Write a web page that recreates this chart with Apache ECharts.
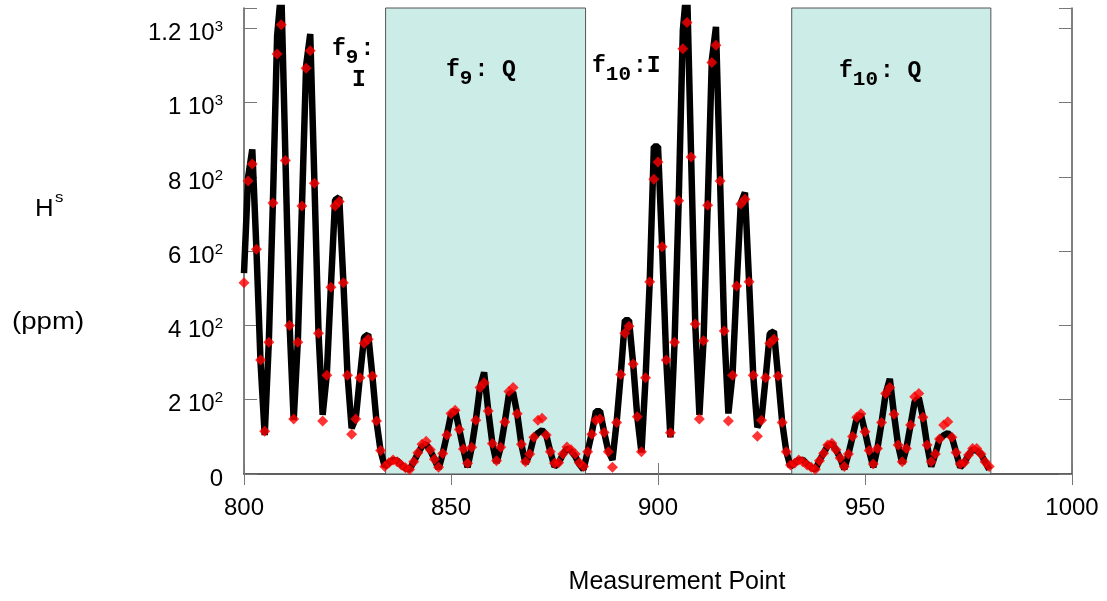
<!DOCTYPE html>
<html>
<head>
<meta charset="utf-8">
<script src="https://cdn.jsdelivr.net/npm/echarts@6/dist/echarts.min.js"></script>
<style>html,body{margin:0;padding:0;background:#fff}#c{width:1107px;height:601px}</style>
</head>
<body>
<div id="c"></div>
<script>
// ---------- DATA ----------
// Measurement points start at these indices (one value per point)
const segmentStarts = [800, 834, 882, 932];
const segmentNames = ['f9:I', 'f9:Q', 'f10:I', 'f10:Q'];

// Black line (H^s, ppm) per segment
const lineF9I = [541, 800, 874, 605, 300, 105, 358, 740, 1180, 1305, 855, 405, 145, 358, 722, 1100, 1185, 790, 380, 159, 268, 508, 738, 745, 518, 268, 123, 150, 262, 368, 376, 266, 142, 62];
const lineF9Q = [20, 30, 38, 36, 25, 15, 12, 33, 55, 75, 80, 63, 40, 14, 55, 105, 160, 172, 120, 67, 18, 72, 145, 233, 274, 170, 82, 30, 72, 140, 215, 220, 162, 80, 28, 54, 99, 110, 118, 105, 60, 20, 30, 52, 69, 62, 48, 26];
const lineF10I = [12, 60, 110, 169, 169, 112, 62, 38, 139, 268, 414, 414, 296, 154, 58, 259, 518, 882, 882, 612, 307, 99, 355, 736, 1195, 1320, 854, 404, 159, 359, 724, 1115, 1204, 789, 385, 163, 268, 508, 730, 758, 518, 266, 126, 148, 259, 378, 384, 264, 139, 60];
const lineF10Q = [20, 30, 38, 38, 27, 18, 12, 36, 56, 76, 82, 65, 43, 13, 54, 101, 150, 160, 114, 63, 18, 69, 139, 217, 256, 161, 78, 28, 69, 132, 195, 205, 153, 78, 20, 54, 94, 104, 110, 99, 58, 18, 31, 51, 66, 63, 54, 33, 12];

// Red diamond points per segment
const dotsF9I = [515, 789, 835, 605, 307, 115, 355, 730, 1131, 1210, 844, 400, 148, 355, 722, 1093, 1140, 783, 379, 143, 266, 503, 722, 734, 515, 266, 107, 148, 259, 352, 363, 264, 143, 63];
const dotsF9Q = [20, 30, 38, 33, 24, 17, 12, 33, 57, 80, 88, 65, 40, 18, 55, 105, 163, 172, 120, 67, 29, 72, 145, 233, 246, 170, 82, 36, 72, 140, 222, 233, 162, 80, 33, 54, 99, 145, 150, 105, 60, 29, 30, 54, 73, 65, 54, 30];
const dotsF10I = [20, 60, 107, 145, 148, 112, 60, 18, 139, 268, 379, 398, 296, 154, 60, 259, 518, 794, 840, 612, 307, 111, 355, 736, 1145, 1216, 854, 404, 148, 359, 724, 1108, 1155, 789, 385, 143, 266, 506, 727, 740, 518, 266, 102, 145, 259, 352, 363, 264, 139, 60];
const dotsF10Q = [24, 29, 38, 33, 24, 18, 13, 36, 56, 78, 83, 65, 43, 20, 54, 101, 153, 162, 114, 63, 27, 69, 139, 217, 233, 161, 78, 33, 69, 132, 208, 217, 153, 78, 33, 54, 94, 132, 141, 99, 58, 27, 31, 51, 69, 69, 54, 33, 20];

// Shaded Q regions (measurement point bounds)
const qRegions = [[834.2, 882.5], [932.3, 980.4]];

// Axis ticks
const xMin = 800, xMax = 1000, xStep = 50;
const yMin = 0, yMax = 1255, yStep = 200;
const yTickValues = [0, 200, 400, 600, 800, 1000, 1200];
const yTickMantissa = ['0', '2', '4', '6', '8', '1', '1.2'];
const yTickExponent = ['', '2', '2', '2', '2', '3', '3'];

// ---------- BUILD ----------
function toPairs(segments) {
  const out = [];
  segments.forEach((vals, s) => {
    vals.forEach((v, i) => out.push([segmentStarts[s] + i, v]));
  });
  return out;
}
const lineData = toPairs([lineF9I, lineF9Q, lineF10I, lineF10Q]);
const dotData = toPairs([dotsF9I, dotsF9Q, dotsF10I, dotsF10Q]);

const sans = '"Liberation Sans", Arial, sans-serif';
const mono = '"Liberation Mono", "Courier New", monospace';

function annot(x, y, parts) {
  const els = [];
  let cx = x;
  parts.forEach(([t, sub]) => {
    const fs = sub ? 21 : 23;
    els.push({
      type: 'text', x: cx, y: sub ? y + 9 : y, z: 100,
      style: { text: t, font: 'bold ' + fs + 'px ' + mono, fill: '#000', align: 'left', verticalAlign: 'middle' }
    });
    cx += t.length * fs * 0.6 + (sub ? 2 : 0);
  });
  return els;
}

const graphics = [].concat(
  annot(332, 49, [['f', false], ['9', true], [':', false]]),
  annot(352, 80, [['I', false]]),
  annot(446, 70, [['f', false], ['9', true], [':', false], [' Q', false]]),
  annot(592, 66, [['f', false], ['10', true], [':I', false]]),
  annot(839, 71, [['f', false], ['10', true], [':', false], [' Q', false]]),
  [
    { type: 'text', x: 35, y: 210, z: 100, scaleX: 1.12,
      style: { text: 'H', font: '23px ' + sans, fill: '#000', align: 'left', verticalAlign: 'middle' } },
    { type: 'text', x: 55, y: 198, z: 100, scaleX: 1.12,
      style: { text: 's', font: '15px ' + sans, fill: '#000', align: 'left', verticalAlign: 'middle' } },
    { type: 'text', x: 12, y: 323, z: 100, scaleX: 1.2,
      style: { text: '(ppm)', font: '23px ' + sans, fill: '#000', align: 'left', verticalAlign: 'middle' } }
  ]
);

const axisLineStyle = { color: '#555', width: 1.5 };
const tickStyle = { color: '#777', width: 1 };

const option = {
  animation: false,
  backgroundColor: '#fff',
  grid: { left: 244, right: 35, top: 8, bottom: 127, containLabel: false },
  xAxis: [
    {
      type: 'value', min: xMin, max: xMax, interval: xStep, position: 'bottom',
      axisLine: { show: true, lineStyle: axisLineStyle },
      axisTick: { show: true, inside: true, length: 11, lineStyle: tickStyle },
      axisLabel: { fontSize: 24, fontFamily: sans, color: '#000', margin: 22, formatter: v => String(v) },
      splitLine: { show: false },
      name: 'Measurement Point', nameLocation: 'middle', nameGap: 96,
      nameTextStyle: { fontSize: 25, fontFamily: sans, color: '#000', padding: [0, 0, 0, 38] }
    },
    {
      type: 'value', min: xMin, max: xMax, interval: xStep, position: 'top',
      axisLine: { show: true, lineStyle: axisLineStyle },
      axisTick: { show: true, inside: true, length: 11, lineStyle: tickStyle },
      axisLabel: { show: false }, splitLine: { show: false }
    }
  ],
  yAxis: [
    {
      type: 'value', min: yMin, max: yMax, interval: yStep, position: 'left',
      axisLine: { show: true, lineStyle: axisLineStyle },
      axisTick: { show: true, inside: true, length: 13, lineStyle: tickStyle },
      splitLine: { show: false },
      axisLabel: {
        margin: 21, padding: [10, 0, 0, 0],
        formatter: function (v) {
          const i = yTickValues.indexOf(v);
          if (i < 0) return '';
          return yTickExponent[i]
            ? '{m|' + yTickMantissa[i] + ' 10}{s|' + yTickExponent[i] + '}'
            : '{m|' + yTickMantissa[i] + '}';
        },
        rich: {
          m: { fontSize: 24, fontFamily: sans, color: '#000', lineHeight: 28 },
          s: { fontSize: 15, fontFamily: sans, color: '#000', lineHeight: 15, verticalAlign: 'top' }
        }
      }
    },
    {
      type: 'value', min: yMin, max: yMax, interval: yStep, position: 'right',
      axisLine: { show: true, lineStyle: axisLineStyle },
      axisTick: { show: true, inside: true, length: 13, lineStyle: tickStyle },
      axisLabel: { show: false }, splitLine: { show: false }
    }
  ],
  series: [
    {
      type: 'line', name: 'H^s', data: lineData, xAxisIndex: 0, yAxisIndex: 0,
      symbol: 'none', clip: true, z: 2,
      lineStyle: { color: '#000', width: 6.5 },
      markArea: {
        silent: true,
        itemStyle: { color: '#ccece8', borderColor: '#555', borderWidth: 1 },
        label: { show: false },
        data: qRegions.map(r => [{ xAxis: r[0] }, { xAxis: r[1] }])
      }
    },
    {
      type: 'scatter', name: 'points', data: dotData, xAxisIndex: 0, yAxisIndex: 0,
      symbol: 'diamond', symbolSize: 11, z: 3,
      itemStyle: { color: '#ff0000' }
    }
  ],
  graphic: graphics
};

const chart = echarts.init(document.getElementById('c'), null, { renderer: 'canvas' });
chart.setOption(option);
</script>
</body>
</html>
